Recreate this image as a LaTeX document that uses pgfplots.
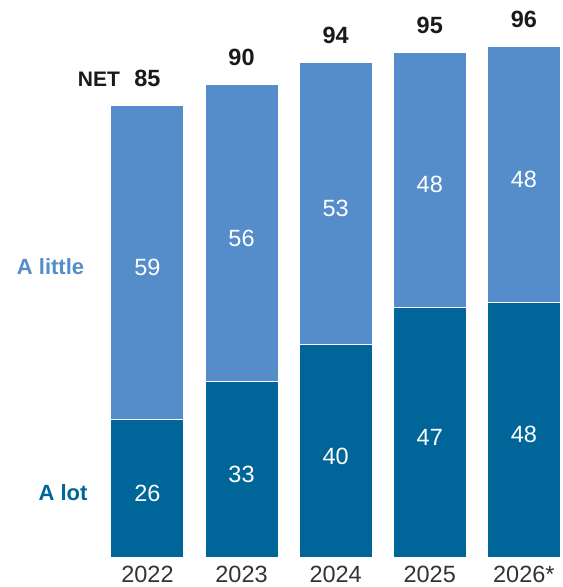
\documentclass[border=0pt]{standalone}
\usepackage{fontspec}
\setmainfont{Liberation Sans}
\usepackage{pgfplots}
\pgfplotsset{compat=1.18}
\definecolor{lightb}{HTML}{558DCA}
\definecolor{darkb}{HTML}{006699}
\definecolor{yeargray}{HTML}{333333}
\definecolor{netblack}{HTML}{1A1A1A}
\newcommand\cf{\fontsize{21}{25}\selectfont}
\newcommand\lf{\fontsize{22}{26}\selectfont}
\newcommand\nf{\fontsize{23.5}{27}\selectfont}
\begin{document}
\begin{tikzpicture}
\begin{axis}[
  scale only axis, width=563pt, height=587pt,
  xmin=-1.567, xmax=4.414, ymin=-5.545, ymax=104.79,
  ybar stacked, bar width=73pt,
  axis line style={draw=none},
  major tick length=0pt,
  ytick=\empty,
  xtick={0,1,2,3,4},
  xticklabels={2022,2023,2024,2025,2026*},
  xticklabel style={font=\nf, text=yeargray, anchor=center, yshift=12pt},
  clip=false,
]
\addplot[fill=darkb, draw=white, line width=1pt] coordinates {(0,26) (1,33) (2,40) (3,47) (4,48)};
\addplot[fill=lightb, draw=white, line width=1pt] coordinates {(0,59) (1,56) (2,53) (3,48) (4,48)};
% label anchor points (text positions only)
\coordinate (a0) at (axis cs:0,13);   \coordinate (b0) at (axis cs:0,55.5); \coordinate (n0) at (axis cs:0,85);
\coordinate (a1) at (axis cs:1,16.5); \coordinate (b1) at (axis cs:1,61);   \coordinate (n1) at (axis cs:1,89);
\coordinate (a2) at (axis cs:2,20);   \coordinate (b2) at (axis cs:2,66.5); \coordinate (n2) at (axis cs:2,93);
\coordinate (a3) at (axis cs:3,23.5); \coordinate (b3) at (axis cs:3,71);   \coordinate (n3) at (axis cs:3,95);
\coordinate (a4) at (axis cs:4,24);   \coordinate (b4) at (axis cs:4,72);   \coordinate (n4) at (axis cs:4,96);
\coordinate (lt) at (axis cs:-0.635,54.6);
\coordinate (ll) at (axis cs:-0.6,12.1);
\coordinate (ln) at (axis cs:-0.255,89.9);
\end{axis}
\foreach \i/\a/\b/\n in {0/26/59/85, 1/33/56/90, 2/40/53/94, 3/47/48/95, 4/48/48/96} {
  \node[font=\nf, text=white, yshift=-5pt] at (a\i) {\a};
  \node[font=\nf, text=white, yshift=-5pt] at (b\i) {\b};
  \node[font=\nf\bfseries, text=netblack, yshift=27pt] at (n\i) {\n};
}
\node[font=\lf\bfseries, text=lightb, anchor=east] at (lt) {A little};
\node[font=\lf\bfseries, text=darkb, anchor=east] at (ll) {A lot};
\node[font=\cf\bfseries, text=netblack, anchor=east] at (ln) {NET};
\end{tikzpicture}
\end{document}
